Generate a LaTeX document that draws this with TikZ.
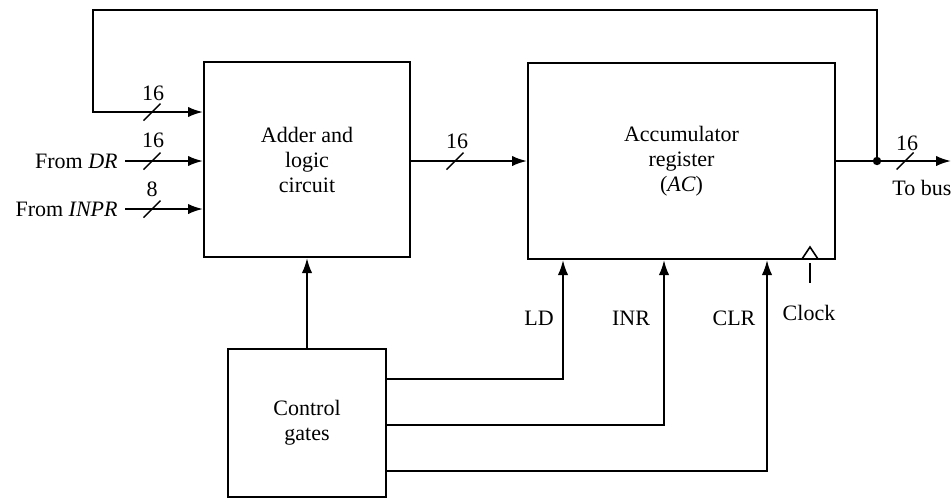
\documentclass[tikz,border=0pt]{standalone}
\usepackage{fontspec}
\setmainfont{Liberation Serif}
\usetikzlibrary{arrows.meta,calc}
\tikzset{
  blk/.style={draw, line width=1pt, rectangle, align=center, inner sep=0pt},
  lbl/.style={inner sep=0pt, font=\fontsize{11}{12.5}\selectfont},
  wire/.style={line width=1pt},
  arr/.style={line width=1pt, -{Latex[length=7.5pt,width=5.2pt]}},
  slash/.style={line width=0.7pt},
}
\begin{document}
\begin{tikzpicture}[x=0.5pt,y=-0.5pt]
\useasboundingbox (0,0) rectangle (952,500);
\tikzset{every node/.append style={font=\fontsize{11}{12.5}\selectfont}}

% blocks
\node[blk, minimum width=103pt, minimum height=97.5pt] (adder) at (307,159.5) {Adder and\\logic\\circuit};
\node[blk, minimum width=153.5pt, minimum height=98pt] (acc) at (681.5,161) {Accumulator\\register\\(\textit{AC})};
\node[blk, minimum width=79pt, minimum height=74pt] (ctrl) at (307,423) {Control\\gates};

% input labels
\node[lbl, anchor=east] (dr) at (118,161) {From \textit{DR}};
\node[lbl, anchor=east] (inpr) at (118,209) {From \textit{INPR}};
\draw[arr] ([xshift=3.5pt]dr.east) -- (adder.west |- dr.east);
\draw[arr] ([xshift=3.5pt]inpr.east) -- (adder.west |- inpr.east);

% feedback and output
\coordinate (dot) at (877,161);
\coordinate (fbtop) at (93,10);
\coordinate (fbin) at (93,112);
\coordinate (bus) at (951,161);
\draw[wire] (acc.east |- dot) -- (dot);
\draw[arr] (dot) -- (bus);
\fill (dot) circle (2.1pt);
\draw[arr] (dot) |- (fbtop) |- (adder.west |- fbin);

% adder to accumulator
\draw[arr] (adder.east |- acc.west) -- (acc.west);

% control to adder
\draw[arr] (ctrl.north) -- (adder.south);

% control lines
\coordinate (c1) at (563,379);
\coordinate (c2) at (664,425);
\coordinate (c3) at (767,471);
\draw[arr] (ctrl.east |- c1) -| (acc.south -| c1);
\draw[arr] (ctrl.east |- c2) -| (acc.south -| c2);
\draw[arr] (ctrl.east |- c3) -| (acc.south -| c3);

% clock
\coordinate (clk) at (810,259);
\draw[line width=0.8pt] (802,259) -- (810,247) -- (818,259);
\coordinate (clkA) at (810,263);
\coordinate (clkB) at (810,283);
\draw[line width=0.8pt] (clkA) -- (clkB);

% bus width marks
\draw[slash] (152,112) +(-8.5,8.5) -- +(8.5,-8.5);
\draw[slash] (152,161) +(-8.5,8.5) -- +(8.5,-8.5);
\draw[slash] (152,209) +(-8.5,8.5) -- +(8.5,-8.5);
\draw[slash] (455,161) +(-8.5,8.5) -- +(8.5,-8.5);
\draw[slash] (905,161) +(-8.5,8.5) -- +(8.5,-8.5);
\node[lbl] (w1) at (153,93) {16};
\node[lbl] (w2) at (153,140) {16};
\node[lbl] (w3) at (152,189) {8};
\node[lbl] (w4) at (457,141) {16};
\node[lbl] (w5) at (907,143) {16};
\node[lbl, anchor=west] (tobus) at (892,188) {To bus};

% control labels
\node[lbl] (ld) at (539,318) {LD};
\node[lbl] (inr) at (631,318) {INR};
\node[lbl] (clr) at (734,318) {CLR};
\node[lbl] (clock) at (809,313) {Clock};
\end{tikzpicture}
\end{document}
